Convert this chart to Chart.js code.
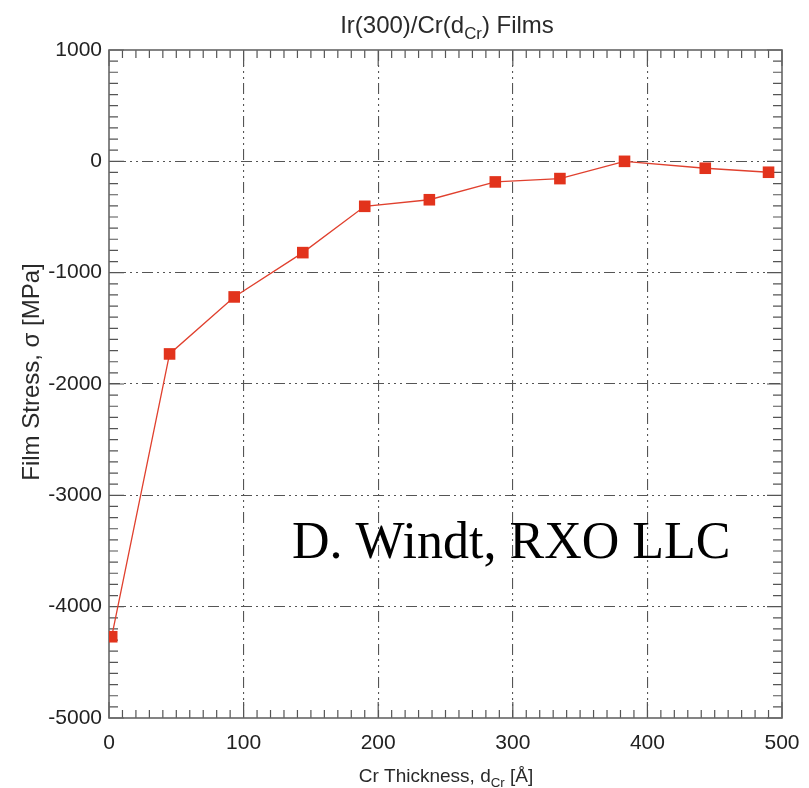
<!DOCTYPE html>
<html><head><meta charset="utf-8">
<script src="https://cdn.jsdelivr.net/npm/chart.js@4/dist/chart.umd.min.js"></script>
<style>html,body{margin:0;padding:0;background:#fff}#wrap{width:809px;height:788px;position:relative}</style>
</head><body><div id="wrap"><canvas id="c" width="809" height="788"></canvas></div>
<script>
// Data
const thickness = [2, 45, 93, 144, 190, 238, 287, 335, 383, 443, 490];
const stress = [-4270, -1730, -1218, -820, -404, -345, -185, -155, 0, -62, -98];
const xTickValues = [0, 100, 200, 300, 400, 500];
const yTickValues = [1000, 0, -1000, -2000, -3000, -4000, -5000];
const chartTitle = [{t: 'Ir(300)/Cr(d'}, {t: 'Cr', sub: true}, {t: ') Films'}];
const xTitle = [{t: 'Cr Thickness, d'}, {t: 'Cr', sub: true}, {t: ' [Å]'}];
const yTitle = [{t: 'Film Stress, σ [MPa]'}];
const watermark = 'D. Windt, RXO LLC';

const SANS = "'Liberation Sans Narrow','Arial Narrow','Liberation Sans',Arial,sans-serif";
const SERIF = "'Liberation Serif','Times New Roman',serif";

function richWidth(ctx, parts, size) {
  let w = 0;
  for (const p of parts) {
    ctx.font = (p.sub ? size * 0.7 : size) + 'px ' + SANS;
    w += ctx.measureText(p.t).width;
  }
  return w;
}
function drawRich(ctx, parts, cx, cy, size) {
  const w = richWidth(ctx, parts, size);
  let x = cx - w / 2;
  ctx.textAlign = 'left';
  ctx.textBaseline = 'alphabetic';
  for (const p of parts) {
    ctx.font = (p.sub ? size * 0.7 : size) + 'px ' + SANS;
    ctx.fillText(p.t, x, cy + (p.sub ? size * 0.25 : 0));
    x += ctx.measureText(p.t).width;
  }
}

const frame = {
  id: 'frame',
  beforeDatasetsDraw(chart) {
    const {ctx, chartArea: a, scales: {x, y}} = chart;
    ctx.save();
    ctx.strokeStyle = '#555';
    ctx.lineWidth = 1.2;
    ctx.beginPath();
    for (let v = 0; v <= 500; v += 10) {
      const px = x.getPixelForValue(v);
      const L = v % 100 === 0 ? 16 : 8;
      ctx.moveTo(px, a.bottom); ctx.lineTo(px, a.bottom - L);
      ctx.moveTo(px, a.top); ctx.lineTo(px, a.top + L);
    }
    for (let v = -5000; v <= 1000; v += 100) {
      const py = y.getPixelForValue(v);
      const L = v % 1000 === 0 ? 15 : 9;
      ctx.moveTo(a.left, py); ctx.lineTo(a.left + L, py);
      ctx.moveTo(a.right, py); ctx.lineTo(a.right - L, py);
    }
    ctx.stroke();
    ctx.lineWidth = 1.6;
    ctx.strokeStyle = '#666';
    ctx.strokeRect(a.left, a.top, a.right - a.left, a.bottom - a.top);
    ctx.restore();
  },
  afterDraw(chart) {
    const {ctx} = chart;
    ctx.save();
    ctx.fillStyle = '#2a2a2a';
    drawRich(ctx, chartTitle, 447, 33, 24);
    drawRich(ctx, xTitle, 446, 782, 19);
    ctx.save();
    ctx.translate(39, 372);
    ctx.rotate(-Math.PI / 2);
    drawRich(ctx, yTitle, 0, 0, 24);
    ctx.restore();
    ctx.fillStyle = '#000';
    ctx.font = '52px ' + SERIF;
    ctx.textAlign = 'left';
    ctx.fillText(watermark, 292, 558);
    ctx.restore();
  }
};

const gridColor = (edgeVals) => (c) => (edgeVals.includes(c.tick && c.tick.value) ? 'rgba(0,0,0,0)' : '#555');

new Chart(document.getElementById('c'), {
  type: 'line',
  data: {
    datasets: [{
      data: thickness.map((t, i) => ({x: t, y: stress[i]})),
      borderColor: '#e0402e',
      borderWidth: 1.3,
      backgroundColor: '#e2331c',
      pointBackgroundColor: '#e2331c',
      pointBorderColor: '#e2331c',
      pointBorderWidth: 0,
      pointStyle: 'rect',
      pointRadius: 8.2,
      tension: 0
    }]
  },
  options: {
    responsive: false,
    animation: false,
    devicePixelRatio: 1,
    layout: {padding: {top: 50, right: 27, left: 0, bottom: 0}},
    plugins: {legend: {display: false}, tooltip: {enabled: false}, title: {display: false}},
    scales: {
      x: {
        type: 'linear', min: 0, max: 500,
        afterBuildTicks: (s) => { s.ticks = xTickValues.map(v => ({value: v})); },
        afterFit: (s) => { s.height = 70; s.paddingLeft = 0; s.paddingRight = 0; },
        ticks: {color: '#222', font: {family: SANS, size: 21}, padding: 13, maxRotation: 0, callback: (v) => String(v)},
        grid: {drawTicks: false, color: gridColor([0, 500]), lineWidth: 1.1},
        border: {display: false, dash: [11, 4, 2, 4, 2, 4, 2, 4]}
      },
      y: {
        type: 'linear', min: -5000, max: 1000,
        afterBuildTicks: (s) => { s.ticks = yTickValues.map(v => ({value: v})); },
        afterFit: (s) => { s.width = 109; s.paddingTop = 0; s.paddingBottom = 0; },
        ticks: {color: '#222', font: {family: SANS, size: 21}, padding: 7, callback: (v) => String(v)},
        grid: {drawTicks: false, color: gridColor([1000, -5000]), lineWidth: 1.1},
        border: {display: false, dash: [11, 4, 2, 4, 2, 4, 2, 4]}
      }
    }
  },
  plugins: [frame]
});
</script>
</body></html>
